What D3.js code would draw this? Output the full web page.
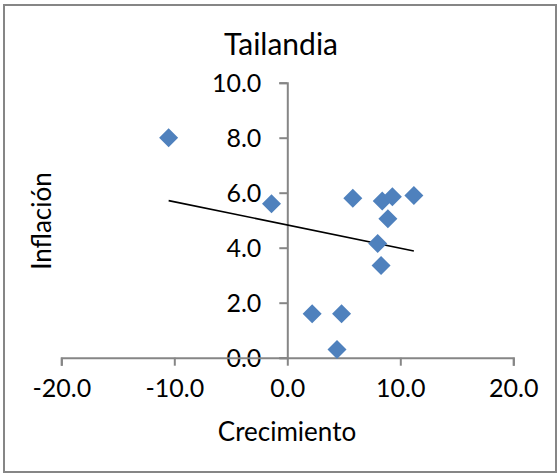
<!DOCTYPE html>
<html>
<head>
<meta charset="utf-8">
<script src="https://cdn.jsdelivr.net/npm/d3@7"></script>
<style>
  body { margin: 0; background: #fff; }
  svg text { font-family: Lato, "Noto Sans", sans-serif; fill: #000; }
</style>
</head>
<body>
<svg id="chart" width="558" height="475"></svg>
<script>
// Crecimiento (x) vs Inflación (y), Tailandia
const growth = [-10.5, -1.4, 5.8, 8.4, 9.3, 11.2, 8.9, 8.0, 8.3, 2.2, 4.8, 4.4];
const inflation = [8.0, 5.6, 5.8, 5.7, 5.85, 5.9, 5.05, 4.15, 3.35, 1.6, 1.6, 0.3];
const xTicks = [-20, -10, 0, 10, 20];
const yTicks = [0, 2, 4, 6, 8, 10];

const points = growth.map((g, i) => ({ x: g, y: inflation[i] }));

const svg = d3.select("#chart");

// outer frame
svg.append("rect")
  .attr("x", 4).attr("y", 5)
  .attr("width", 552).attr("height", 467)
  .attr("fill", "#fff")
  .attr("stroke", "#868686")
  .attr("stroke-width", 2);

const xScale = d3.scaleLinear().domain([-20, 20]).range([61.3, 513.3]);
const yScale = d3.scaleLinear().domain([0, 10]).range([357.7, 82.7]);

const axisColor = "#868686";

// y axis at x = 0
const yAxis = svg.append("g")
  .attr("transform", `translate(${xScale(0)},0)`)
  .call(d3.axisLeft(yScale).tickValues(yTicks).tickFormat(d3.format(".1f")).tickSize(8).tickPadding(18));

// x axis at y = 0
const xAxis = svg.append("g")
  .attr("transform", `translate(0,${yScale(0)})`)
  .call(d3.axisBottom(xScale).tickValues(xTicks).tickFormat(d3.format(".1f")).tickSize(8).tickPadding(14));

[xAxis, yAxis].forEach(ax => {
  ax.select(".domain").attr("stroke", axisColor).attr("stroke-width", 2);
  ax.selectAll(".tick line").attr("stroke", axisColor).attr("stroke-width", 2);
  ax.selectAll(".tick text").attr("font-size", 25).attr("fill", "#000")
    .style("font-family", "Lato, 'Noto Sans', sans-serif");
});
yAxis.selectAll(".tick text").attr("dy", "0.36em");
// hyphen-minus like the original
xAxis.selectAll(".tick text").text(d => d3.format(".1f")(d).replace("−", "-"));

// trend line (least squares)
const mx = d3.mean(points, d => d.x);
const my = d3.mean(points, d => d.y);
const slope = d3.sum(points, d => (d.x - mx) * (d.y - my)) / d3.sum(points, d => (d.x - mx) ** 2);
const intercept = my - slope * mx;
const [x0, x1] = d3.extent(points, d => d.x);

svg.append("line")
  .attr("x1", xScale(x0)).attr("y1", yScale(intercept + slope * x0))
  .attr("x2", xScale(x1)).attr("y2", yScale(intercept + slope * x1))
  .attr("stroke", "#000")
  .attr("stroke-width", 1.6);

// diamond markers
const r = 9.5;
svg.selectAll(".pt")
  .data(points)
  .enter().append("path")
  .attr("class", "pt")
  .attr("d", `M0,${-r}L${r},0L0,${r}L${-r},0Z`)
  .attr("transform", d => `translate(${xScale(d.x)},${yScale(d.y)})`)
  .attr("fill", "#4F81BD");

// titles
svg.append("text")
  .attr("x", 281).attr("y", 55)
  .attr("text-anchor", "middle")
  .attr("font-size", 30)
  .text("Tailandia");

svg.append("text")
  .attr("x", 287).attr("y", 441)
  .attr("text-anchor", "middle")
  .attr("font-size", 26)
  .text("Crecimiento");

svg.append("text")
  .attr("transform", "translate(51,221) rotate(-90)")
  .attr("text-anchor", "middle")
  .attr("font-size", 26)
  .text("Inflación");
</script>
</body>
</html>
